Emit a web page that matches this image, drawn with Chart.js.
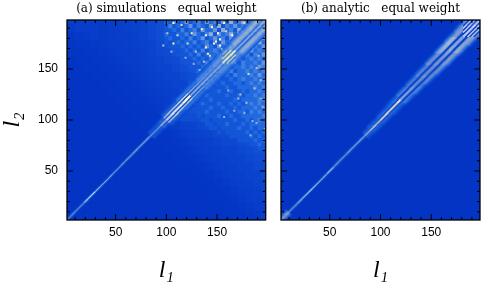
<!DOCTYPE html>
<html>
<head>
<meta charset="utf-8">
<style>
  html, body { margin: 0; padding: 0; background: #fff; overflow: hidden; }
  canvas { position: absolute; top: 0; }
</style>
<script src="https://cdn.jsdelivr.net/npm/chart.js@4"></script>
</head>
<body>
<canvas id="left" width="275" height="284" style="left:0"></canvas>
<canvas id="right" width="206" height="284" style="left:275px"></canvas>
<script>
const titleA = '(a) simulations   equal weight';
const titleB = '(b) analytic   equal weight';
const axisL1 = 'l\u2081';
const axisL2 = 'l\u2082';
const majorTicks = [50, 100, 150];
const allTicks = [10, 20, 30, 40, 50, 60, 70, 80, 90, 100, 110, 120, 130, 140, 150, 160, 170, 180, 190];
const lMin = 2;
const lMax = 198;

// coarse background of panel a, l1 bins across, l2 bins from top to bottom, in tenths
const simBinL1 = [6, 14, 22, 30, 38, 46, 54, 62, 70, 78, 86, 94, 102, 110, 118, 126, 134, 142, 150, 158, 166, 174, 182, 190, 198];
const simBinL2 = [198, 190, 182, 174, 166, 158, 150, 142, 134, 126, 118, 110, 102, 94, 86, 78, 70, 62, 54, 46, 38, 30, 22, 14, 6];
const simGrid = [
  [.8,.7,.6,.6,.6,.6,.7,.8,.9,1,1.2,1.5,2,2.5,3,3,3,3.5,3.5,3.5,4,4,4.5,4.5,5],
  [.5,.7,.6,.6,.5,.6,.7,.8,.9,1,1.2,1.5,2,2.5,2.5,3,3.5,3.5,3.5,3.5,4,4,4.5,5,5],
  [.3,.4,.5,.6,.5,.6,.7,.7,.8,1,1.2,1.5,2,2,2.5,3,3,3.5,3.5,3.5,4,4.5,5,5,4.5],
  [.2,.3,.3,.4,.5,.6,.6,.7,.8,.9,1,1.3,1.5,2,2,2.5,3,3,3.5,3.5,4.5,5,5,4,4],
  [.2,.2,.3,.3,.4,.5,.6,.6,.7,.8,1,1.2,1.4,1.7,2,2.2,2.5,3,3.5,4.5,5,5,4,4,4],
  [.1,.2,.2,.3,.3,.4,.5,.6,.6,.8,.9,1,1.2,1.4,1.8,2,2.2,2.5,3.5,5,5,4,4,4,4],
  [.1,.1,.2,.2,.3,.3,.4,.5,.6,.7,.8,1,1,1.2,1.5,1.8,2,2.5,4,5,4,3.5,3.5,3.5,4],
  [.1,.1,.1,.2,.2,.3,.3,.4,.5,.6,.7,.8,1,1,1.2,1.5,2.5,4,4,3.5,3,3,3.5,3.5,4],
  [.1,.1,.1,.1,.2,.2,.3,.3,.4,.5,.6,.7,.8,1,1,2,4,4,3,2.5,2.5,3,3,3,3.5],
  [.1,.1,.1,.1,.1,.2,.2,.3,.3,.4,.5,.6,.7,.8,1.5,3,3.5,2.5,2,2,2,2.5,3,3,3],
  [.1,.1,.1,.1,.1,.1,.2,.2,.3,.3,.4,.5,.6,1.2,2.5,2.5,2,1.8,1.8,2,2,2,2.5,3.5,3.5],
  [.1,.1,.1,.1,.1,.1,.1,.2,.2,.3,.3,.4,.8,1.5,1.8,1.8,1.8,1.6,1.6,1.8,2,2,2.5,3,3.5],
  [.1,.1,.1,.1,.1,.1,.1,.1,.2,.2,.3,.3,.6,1,1.5,1.5,1.5,1.5,1.6,1.6,1.8,2,2,2.5,3],
  [.1,.1,.1,.1,.1,.1,.1,.1,.1,.2,.2,.3,.4,.6,.9,1,1.2,1.4,1.5,1.5,1.6,1.8,1.8,2,2.5],
  [.1,.1,.1,.1,.1,.1,.1,.1,.1,.1,.2,.2,.3,.4,.6,.8,.9,1,1.2,1.4,1.5,1.6,1.6,1.8,2],
  [.1,.1,.1,.1,.1,.1,.1,.1,.1,.1,.1,.2,.2,.3,.4,.6,.7,.8,1,1.2,1.2,1.4,1.6,1.6,1.8],
  [.1,.1,.1,.1,.1,.1,.1,.1,.1,.1,.1,.1,.2,.2,.3,.4,.6,.7,.8,1,1,1.2,1.4,1.6,1.6],
  [.1,.1,.1,.1,.1,.1,.1,.1,.1,.1,.1,.1,.1,.2,.2,.3,.4,.6,.7,.8,1,1,1.2,1.4,1.4],
  [.1,.1,.1,.1,.1,.1,.1,.1,.1,.1,.1,.1,.1,.1,.2,.2,.3,.4,.6,.7,.8,1,1,1.2,1.2],
  [.1,.1,.1,.1,.1,.1,.1,.1,.1,.1,.1,.1,.1,.1,.1,.2,.2,.3,.4,.6,.7,.8,1,1,1.2],
  [.1,.1,.1,.1,.1,.1,.1,.1,.1,.1,.1,.1,.1,.1,.1,.1,.2,.2,.3,.4,.6,.7,.8,1,1],
  [.1,.1,.1,.1,.1,.1,.1,.1,.1,.1,.1,.1,.1,.1,.1,.1,.1,.2,.2,.3,.4,.6,.7,.8,1],
  [.1,.1,.1,.1,.1,.1,.1,.1,.1,.1,.1,.1,.1,.1,.1,.1,.1,.1,.2,.2,.3,.4,.6,.7,.8],
  [.1,.1,.1,.1,.1,.1,.1,.1,.1,.1,.1,.1,.1,.1,.1,.1,.1,.1,.1,.2,.2,.3,.4,.6,.7],
  [.1,.1,.1,.1,.1,.1,.1,.1,.1,.1,.1,.1,.1,.1,.1,.1,.1,.1,.1,.1,.2,.2,.3,.4,.6]
];

// finer patches of panel a, where the mottling is coarse enough to read, 0 leaves the coarse background
const upperL1 = [100,104,108,112,116,120,124,128,132,136,140,144,148,152,156,160,164,168,172,176,180,184,188,192,196];
const upperL2 = [196,192,188,184,180,176,172,168,164,160,156,152,148,144,140,136,132,128,124,120];
const upperGrid = [
  [3,2,4,2,3,5,2,3,4,2,5,3,4,2,5,3,6,3,4,6,3,5,7,4,8],
  [2,4,2,3,2,3,5,2,4,3,2,5,3,6,2,4,3,5,3,4,6,5,4,7,5],
  [2,0,3,2,4,2,3,4,2,5,3,3,5,2,6,3,4,2,6,4,5,7,6,4,5],
  [3,2,2,3,0,4,2,5,3,2,4,6,2,5,3,4,6,3,4,5,7,5,3,6,4],
  [0,3,2,0,3,2,4,2,3,5,2,3,5,3,4,2,5,4,6,7,5,3,5,3,5],
  [2,0,2,3,2,3,0,4,2,3,4,2,4,2,5,3,4,6,7,5,3,5,4,6,3],
  [0,2,0,2,3,0,3,2,3,2,5,3,2,5,3,4,6,7,5,4,5,3,4,3,5],
  [0,0,2,0,2,3,2,3,2,4,2,3,4,3,4,5,7,5,3,4,3,5,3,4,3],
  [0,0,0,2,0,2,3,2,4,2,3,3,3,5,4,6,7,4,3,3,4,2,4,3,5],
  [0,0,0,0,2,0,2,3,2,3,2,4,3,4,6,7,4,3,4,2,3,4,3,4,3],
  [0,0,0,0,0,2,0,2,3,2,4,2,4,5,6,4,3,4,2,4,3,3,4,3,5],
  [0,0,0,0,0,0,2,2,2,3,3,4,5,6,4,3,2,3,3,4,3,4,3,5,4],
  [0,0,0,0,0,0,0,2,3,2,3,5,6,4,3,3,4,2,3,3,4,3,4,3,4],
  [0,0,0,0,0,0,0,0,2,3,5,6,4,3,2,3,2,4,3,3,3,4,3,5,3],
  [0,0,0,0,0,0,0,0,3,5,6,4,2,3,2,2,3,2,3,4,3,3,4,3,4],
  [0,0,0,0,0,0,0,3,5,6,4,2,3,2,3,2,2,3,3,2,3,4,3,4,3],
  [0,0,0,0,0,0,2,5,6,4,2,3,2,2,2,3,2,2,3,3,3,3,4,3,4],
  [0,0,0,0,0,2,5,6,4,2,2,2,2,3,2,2,3,2,2,3,2,3,3,4,3],
  [0,0,0,0,2,5,6,4,2,2,3,2,2,2,2,3,2,2,3,2,3,3,4,3,4],
  [0,0,0,2,5,6,4,2,2,2,2,3,2,2,2,2,2,3,2,3,3,3,3,4,4]
];
const lowerL1 = [132,136,140,144,148,152,156,160,164,168,172,176,180,184,188,192,196];
const lowerL2 = [116,112,108,104,100,96,92,88,84,80,76,72];
const lowerGrid = [
  [2,3,2,2,2,3,2,2,3,2,3,2,3,4,3,4,3],
  [2,2,2,3,2,2,3,2,2,3,2,3,3,3,4,3,4],
  [2,2,3,2,2,2,2,3,2,2,3,3,2,4,3,4,3],
  [2,0,2,2,2,3,2,2,3,2,2,3,3,3,3,3,4],
  [0,2,2,0,2,2,2,2,2,3,2,2,3,2,3,4,3],
  [0,0,2,2,0,2,2,3,2,2,2,3,2,3,3,3,3],
  [0,0,0,2,2,0,2,2,2,2,3,2,2,3,2,3,3],
  [0,0,0,0,0,2,0,2,2,2,2,2,3,2,3,2,3],
  [0,0,0,0,0,0,0,0,2,2,2,2,2,3,2,3,2],
  [0,0,0,0,0,0,0,0,0,0,2,2,2,2,3,2,3],
  [0,0,0,0,0,0,0,0,0,0,0,0,0,2,2,3,2],
  [0,0,0,0,0,0,0,0,0,0,0,0,0,0,0,2,2]
];

// single cells of panel a that stand out of the background
const speckL1 = [107,115,135,151,125,139,111,101,107,121,147,153,97,153,163,139,141,171,183,193,129,145,157,119,105,127,137,149,159,169,177,187,195,133,143,155,165,175,185,191,181,189,173,193,161,171,179,187,195,167,177,185,193,157,189,197,183];
const speckL2 = [195,193,189,185,185,183,183,185,175,175,175,179,173,173,171,171,165,185,191,195,167,191,195,161,167,155,157,177,187,179,195,193,187,149,163,169,183,187,171,163,145,151,125,139,129,121,117,131,113,109,107,99,121,103,97,91,85];
const speckV  = [9,8,9,10,9,10,8,7,9,8,9,10,7,10,10,9,9,9,8,10,7,9,9,6,6,6,7,9,8,8,8,7,7,6,8,9,10,8,8,7,8,7,7,7,6,7,7,7,6,6,6,6,6,6,6,6,6];

// diagonal band, one row per range of (l1+l2)/2, columns are |l1-l2| = 0, 1, 2 ... in tenths
const simBandFrom = [2, 20, 30, 60, 85, 95, 100, 115, 124, 135, 150, 170];
const simBand = [
  [7,3,1],
  [10,4,1],
  [7,3,1],
  [7,4,1],
  [7,4,2,2.5,2.5,2,1.5,1],
  [9,6,2,3,4,3,2,1.5,1],
  [10,10,2,2,9,8,3,3,3,2,2,1.5,1],
  [10,9,2,2,8,7,3,3,4,3,3,2,1.5,1],
  [6,5,2,2,6,5,3,3,4,3,3,2.5,2,1.5],
  [6,5,2.5,2.5,5,5,4,4,5,4,3.5,3,2.5,2,1.5],
  [6,5,3,3,5,5,5,5,5,4.5,4,3.5,3,2.5,2],
  [6,5,3,3,5,5.5,6,6,6,5.5,5,4.5,4,3,2.5,2]
];
const simCheckerFrom = 156;
const simCheckerTo = 168;
const simChecker = [9,9,3,3,9,9,3,3,7,7,4,4,6,5,4,3];

const anaBandFrom = [2, 10, 48, 54, 85, 90, 100, 110, 120, 130, 140, 150, 160, 170, 180];
const anaBand = [
  [7,6,5,4,3,2,1],
  [7,4,1],
  [10,5,1],
  [7,4,1,1],
  [8,5,3,3,2,2,1,1],
  [9,6,2,3,3,2.5,2,1.5,1,.5],
  [10,8,1,2.5,3.5,3,2.5,2,1.5,1,.5],
  [10,9,1,2,3.5,3.5,3,2.5,2,1.5,1,.5],
  [7,6,3,1,1.5,4.5,4.5,4,3.5,2.5,2,1,.5],
  [6,6,4,1,1,4,5,5,4.5,3.5,2.5,2,1,.5],
  [6,6,5,1,1,3.5,5.5,5.5,5.5,4.5,3.5,2.5,2,1,.5],
  [6,6,5,1,1,3,5.5,6,6,5.5,5,4,3,2,1,.5],
  [6,6,5,1,1,3,5.5,6,6.5,6,5.5,5,4,3,2,1,.5],
  [6,6,5,1,1,3,5.5,6.5,6.5,6.5,6,5.5,4.5,4,3,2,1,.5],
  [6,6,5,1,1,3,5.5,6.5,6.5,6.5,6.5,6,5.5,5,4,3,2,1,.5]
];
const anaCheckerFrom = 182;
const anaCheckerTo = 198;
const anaChecker = [10,10,1,1,10,10,1,1,10,10,1,1,6,6,5,5,4,3,2,1];

const colorStops = [
  [0, [2, 50, 194]],
  [0.1, [10, 68, 206]],
  [0.2, [20, 86, 216]],
  [0.3, [34, 106, 224]],
  [0.45, [78, 138, 224]],
  [0.6, [150, 172, 212]],
  [0.75, [200, 206, 192]],
  [0.9, [255, 246, 176]],
  [1, [255, 255, 255]]
];

function colorAt(v) {
  let i = 1;
  while (i < colorStops.length - 1 && v > colorStops[i][0]) i++;
  const [p0, c0] = colorStops[i - 1];
  const [p1, c1] = colorStops[i];
  const t = Math.min(1, Math.max(0, (v - p0) / (p1 - p0)));
  return `rgb(${c0.map((c, k) => Math.round(c + (c1[k] - c) * t)).join(',')})`;
}

function cellDataset(points, units, overlap) {
  return {
    data: points,
    pointStyle: 'rect',
    pointRadius: (units * 1.02 + overlap) * Math.SQRT1_2,
    pointHoverRadius: 0,
    borderWidth: 0,
    pointBackgroundColor: points.map(p => colorAt(p.v / 10))
  };
}

function gridPoints(grid, binL1, binL2) {
  const pts = [];
  grid.forEach((row, r) => row.forEach((v, c) => {
    if (v > 0) pts.push({x: binL1[c], y: binL2[r], v});
  }));
  return pts;
}

function bandPoints(from, band, checker, checkerFrom, checkerTo) {
  const pts = [];
  for (let a = lMin + 1; a < lMax; a++) {
    for (let b = a - 20; b <= a + 20; b++) {
      if (b <= lMin || b >= lMax) continue;
      const mid = (a + b) / 2;
      const d = Math.abs(a - b);
      let r = from.length - 1;
      while (r > 0 && mid < from[r]) r--;
      const inBox = Math.min(a, b) >= checkerFrom && Math.max(a, b) <= checkerTo;
      const v = inBox ? checker[d] : band[r][d];
      if (v !== undefined) pts.push({x: a, y: b, v});
    }
  }
  return pts;
}

const frameTicks = {
  id: 'frameTicks',
  beforeDatasetsDraw(chart) {
    const {ctx, chartArea: area} = chart;
    ctx.save();
    ctx.fillStyle = colorAt(0.01);
    ctx.fillRect(area.left, area.top, area.right - area.left, area.bottom - area.top);
    ctx.restore();
  },
  afterDatasetsDraw(chart) {
    const {ctx, chartArea: area, scales: {x, y}} = chart;
    ctx.save();
    ctx.strokeStyle = '#000';
    ctx.lineWidth = 1;
    ctx.beginPath();
    for (const v of allTicks) {
      const len = majorTicks.includes(v) ? 6 : 3;
      const px = x.getPixelForValue(v);
      const py = y.getPixelForValue(v);
      ctx.moveTo(px, area.bottom); ctx.lineTo(px, area.bottom - len);
      ctx.moveTo(px, area.top); ctx.lineTo(px, area.top + len);
      ctx.moveTo(area.left, py); ctx.lineTo(area.left + len, py);
      ctx.moveTo(area.right, py); ctx.lineTo(area.right - len, py);
    }
    ctx.stroke();
    ctx.lineWidth = 1.3;
    ctx.strokeRect(area.left, area.top, area.right - area.left, area.bottom - area.top);
    ctx.restore();
  }
};

function axisTicks(s) {
  s.ticks = allTicks.map(value => ({value}));
}

function tickLabel(v) {
  return majorTicks.includes(v) ? String(v) : '';
}

const tickFont = {family: '"Liberation Sans"', size: 12};
const labelFont = {family: '"Liberation Serif"', size: 24, style: 'italic'};

function makePanel(id, title, datasets, yWidth, rightPad, showY) {
  return new Chart(document.getElementById(id), {
    type: 'scatter',
    data: {datasets},
    plugins: [frameTicks],
    options: {
      responsive: false,
      animation: false,
      events: [],
      layout: {padding: {left: 0, right: rightPad, top: 0, bottom: 0}},
      plugins: {
        legend: {display: false},
        tooltip: {enabled: false},
        title: {
          display: true,
          text: title,
          fullSize: false,
          color: '#000',
          font: {family: '"DejaVu Serif"', size: 12, weight: 'normal', lineHeight: 1.2},
          padding: {top: 2, bottom: 3.6}
        }
      },
      scales: {
        x: {
          type: 'linear',
          min: lMin,
          max: lMax,
          grid: {display: false, drawTicks: false},
          border: {display: false},
          afterBuildTicks: axisTicks,
          afterFit: s => { s.height = 64; },
          ticks: {color: '#000', font: tickFont, padding: 5, autoSkip: false, maxRotation: 0, callback: tickLabel},
          title: {display: true, text: axisL1, color: '#000', font: labelFont, padding: {top: 0, bottom: -1}}
        },
        y: {
          type: 'linear',
          min: lMin,
          max: lMax,
          grid: {display: false, drawTicks: false},
          border: {display: false},
          afterBuildTicks: axisTicks,
          afterFit: s => { s.width = yWidth; },
          ticks: {display: showY, color: '#000', font: tickFont, padding: 9, autoSkip: false, callback: tickLabel},
          title: {display: showY, text: axisL2, color: '#000', font: labelFont, padding: {top: -2, bottom: 0}}
        }
      }
    }
  });
}

const specks = speckL1.map((l, i) => ({x: l, y: speckL2[i], v: speckV[i]}));

makePanel('left', titleA, [
  cellDataset(bandPoints(simBandFrom, simBand, simChecker, simCheckerFrom, simCheckerTo), 1, 0.05),
  cellDataset(specks, 2, 0),
  cellDataset(gridPoints(upperGrid, upperL1, upperL2), 4, 0.1),
  cellDataset(gridPoints(lowerGrid, lowerL1, lowerL2), 4, 0.1),
  cellDataset(gridPoints(simGrid, simBinL1, simBinL2), 8, 1)
], 67, 9.3, true);

makePanel('right', titleB, [
  cellDataset(bandPoints(anaBandFrom, anaBand, anaChecker, anaCheckerFrom, anaCheckerTo), 1, 0.05)
], 6, 1, false);
</script>
</body>
</html>
